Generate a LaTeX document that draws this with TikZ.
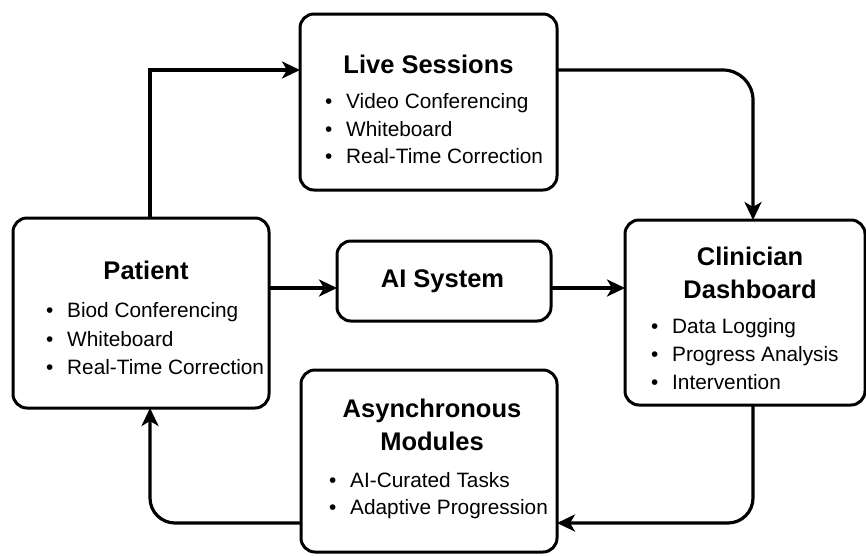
\documentclass[tikz,border=0pt]{standalone}
\usepackage{fontspec}
\setmainfont{Liberation Sans}
\usetikzlibrary{arrows.meta}
\newcommand\bitem[1]{\makebox[21pt][l]{\textbullet}#1}
\begin{document}
\begin{tikzpicture}[x=1pt,y=-1pt,
  box/.style={draw, line width=3pt, rounded corners=14pt, inner sep=0pt, outer sep=0pt},
  ttl/.style={anchor=base, inner sep=0pt, font=\bfseries\fontsize{25.5}{32}\selectfont},
  itm/.style={anchor=base west, inner sep=0pt, font=\fontsize{20.8}{27}\selectfont},
  arr/.style={line width=3.2pt, -{Stealth[length=18pt,width=17pt,inset=5pt]}}]
\useasboundingbox (0,0) rectangle (866,555);
% boxes
\node[box, minimum width=257pt, minimum height=176pt] (live) at (428.5,102) {};
\node[box, minimum width=256pt, minimum height=190pt] (patient) at (141,313) {};
\node[box, minimum width=214pt, minimum height=80pt] (ai) at (444,281) {};
\node[box, minimum width=240pt, minimum height=185pt] (clin) at (745,312.5) {};
\node[box, minimum width=256pt, minimum height=182pt] (async) at (429,461) {};
% Live Sessions text
\node[ttl] (liveT) at (428.5,73) {Live Sessions};
\node[itm] (liveA) at (325,108) {\bitem{Video Conferencing}};
\node[itm] (liveB) at (325,136) {\bitem{Whiteboard}};
\node[itm] (liveC) at (325,163) {\bitem{Real-Time Correction}};
% Patient text
\node[ttl] (patT) at (146,279) {Patient};
\node[itm] (patA) at (46,317) {\bitem{Biod Conferencing}};
\node[itm] (patB) at (46,346) {\bitem{Whiteboard}};
\node[itm] (patC) at (46,374) {\bitem{Real-Time Correction}};
% AI System text
\node[ttl] (aiT) at (442.5,287) {AI System};
% Clinician text
\node[ttl] (clinT1) at (750,265) {Clinician};
\node[ttl] (clinT2) at (750,298) {Dashboard};
\node[itm] (clinA) at (651,333) {\bitem{Data Logging}};
\node[itm] (clinB) at (651,361) {\bitem{Progress Analysis}};
\node[itm] (clinC) at (651,389) {\bitem{Intervention}};
% Async text
\node[ttl] (asyT1) at (432,417) {Asynchronous};
\node[ttl] (asyT2) at (432,450) {Modules};
\node[itm] (asyA) at (329,487) {\bitem{AI-Curated Tasks}};
\node[itm] (asyB) at (329,514) {\bitem{Adaptive Progression}};
% connectors
\draw[arr] ([xshift=9pt]patient.north) |- ([yshift=32pt]live.west);
\draw[arr, rounded corners=30pt] ([yshift=32pt]live.east) -| ([xshift=8pt]clin.north);
\draw[arr] ([yshift=-7pt]ai.west -| patient.east) -- ([yshift=-7pt]ai.west);
\draw[arr] ([yshift=-7pt]ai.east) -- ([yshift=-7pt]ai.east -| clin.west);
\draw[arr, rounded corners=25pt] ([xshift=8pt]clin.south) |- ([yshift=-62pt]async.east);
\draw[arr, rounded corners=25pt] ([yshift=-62pt]async.west) -| ([xshift=9pt]patient.south);
\end{tikzpicture}
\end{document}
